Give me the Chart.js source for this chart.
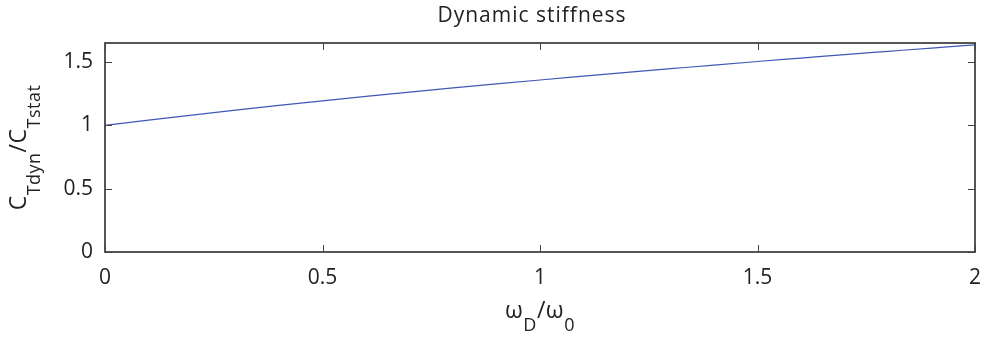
<!DOCTYPE html>
<html>
<head>
<meta charset="utf-8">
<script src="https://cdn.jsdelivr.net/npm/chart.js@4/dist/chart.umd.min.js"></script>
<style>
html,body{margin:0;padding:0;background:#fff;}
#wrap{width:982px;height:339px;position:relative;}
</style>
</head>
<body>
<div id="wrap"><canvas id="c" width="982" height="339"></canvas></div>
<script>
// ---- data ----
const freqRatio = [0, 0.1, 0.2, 0.3, 0.4, 0.5, 0.6, 0.7, 0.8, 0.9, 1.0, 1.1, 1.2, 1.3, 1.4, 1.5, 1.6, 1.7, 1.8, 1.9, 2.0];
const stiffRatio = [1.000, 1.041, 1.081, 1.120, 1.157, 1.193, 1.228, 1.262, 1.295, 1.327, 1.358, 1.388, 1.418, 1.447, 1.476, 1.504, 1.531, 1.558, 1.584, 1.610, 1.635];
const xTicks = [0, 0.5, 1, 1.5, 2];
const yTicks = [0, 0.5, 1, 1.5];
const chartTitle = 'Dynamic stiffness';
const yTitleParts = [{t:'C'},{t:'Tdyn',sub:true},{t:'/C'},{t:'Tstat',sub:true}];
const xTitleParts = [{t:'\u03C9'},{t:'D',sub:true},{t:'/\u03C9'},{t:'0',sub:true}];

const FONT = '"Open Sans", "DejaVu Sans", sans-serif';
const TXT = '#222';

function drawRich(ctx, parts, cx, baseY, size, subSize, subDrop){
  let w = 0;
  parts.forEach(p=>{ ctx.font = (p.sub?subSize:size)+'px '+FONT; w += ctx.measureText(p.t).width; });
  let x = cx - w/2;
  ctx.textAlign='left'; ctx.textBaseline='alphabetic';
  parts.forEach(p=>{
    ctx.font = (p.sub?subSize:size)+'px '+FONT;
    ctx.fillText(p.t, x, baseY + (p.sub?subDrop:0));
    x += ctx.measureText(p.t).width;
  });
}

const framePlugin = {
  id:'frame',
  afterDraw(chart){
    const ctx = chart.ctx, a = chart.chartArea;
    const xs = chart.scales.x, ys = chart.scales.y;
    ctx.save();
    ctx.strokeStyle = '#444'; ctx.lineWidth = 1.8;
    ctx.strokeRect(a.left, a.top, a.right-a.left, a.bottom-a.top);
    ctx.lineWidth = 1; ctx.strokeStyle='#444';
    const tl = 7;
    ctx.beginPath();
    xTicks.forEach(v=>{
      const px = Math.round(xs.getPixelForValue(v))+0.5;
      ctx.moveTo(px, a.bottom); ctx.lineTo(px, a.bottom-tl);
      ctx.moveTo(px, a.top); ctx.lineTo(px, a.top+tl);
    });
    yTicks.forEach(v=>{
      const py = Math.round(ys.getPixelForValue(v))+0.5;
      ctx.moveTo(a.left, py); ctx.lineTo(a.left+tl, py);
      ctx.moveTo(a.right, py); ctx.lineTo(a.right-tl, py);
    });
    ctx.stroke();
    // title
    ctx.fillStyle = TXT;
    ctx.letterSpacing = '1px';
    ctx.font = '21px '+FONT; ctx.textAlign='center'; ctx.textBaseline='alphabetic';
    ctx.fillText(chartTitle, (a.left+a.right)/2 - 8, 22);
    ctx.letterSpacing = '0.5px';
    // x title
    drawRich(ctx, xTitleParts, (a.left+a.right)/2, 318, 23, 18, 13);
    // y title
    ctx.translate(26, (a.top+a.bottom)/2);
    ctx.rotate(-Math.PI/2);
    drawRich(ctx, yTitleParts, 0, 0, 23, 18, 14);
    ctx.restore();
  }
};

new Chart(document.getElementById('c'), {
  type:'line',
  data:{ datasets:[{
    data: freqRatio.map((x,i)=>({x:x, y:stiffRatio[i]})),
    borderColor:'#4058b4', borderWidth:1.2, pointRadius:0, fill:false,
    cubicInterpolationMode:'monotone'
  }]},
  options:{
    responsive:false, animation:false, devicePixelRatio:1,
    layout:{padding:{top:43, right:7, left:0, bottom:0}},
    plugins:{legend:{display:false}, tooltip:{enabled:false}, title:{display:false}},
    scales:{
      x:{ type:'linear', min:0, max:2,
        afterBuildTicks:s=>{ s.ticks = xTicks.map(v=>({value:v})); },
        afterFit:s=>{ s.height = 87; s.paddingLeft = 0; s.paddingRight = 0; },
        grid:{display:false, drawTicks:false}, border:{display:false},
        ticks:{ padding:13, color:TXT, font:{family:FONT, size:21}, maxRotation:0,
          callback:v=>String(v) }
      },
      y:{ type:'linear', min:0, max:1.65,
        afterBuildTicks:s=>{ s.ticks = yTicks.map(v=>({value:v})); },
        afterFit:s=>{ s.width = 105; s.paddingTop = 0; s.paddingBottom = 0; },
        grid:{display:false, drawTicks:false}, border:{display:false},
        ticks:{ padding:12, color:TXT, font:{family:FONT, size:21},
          callback:v=>String(v) }
      }
    }
  },
  plugins:[framePlugin]
});
</script>
</body>
</html>
